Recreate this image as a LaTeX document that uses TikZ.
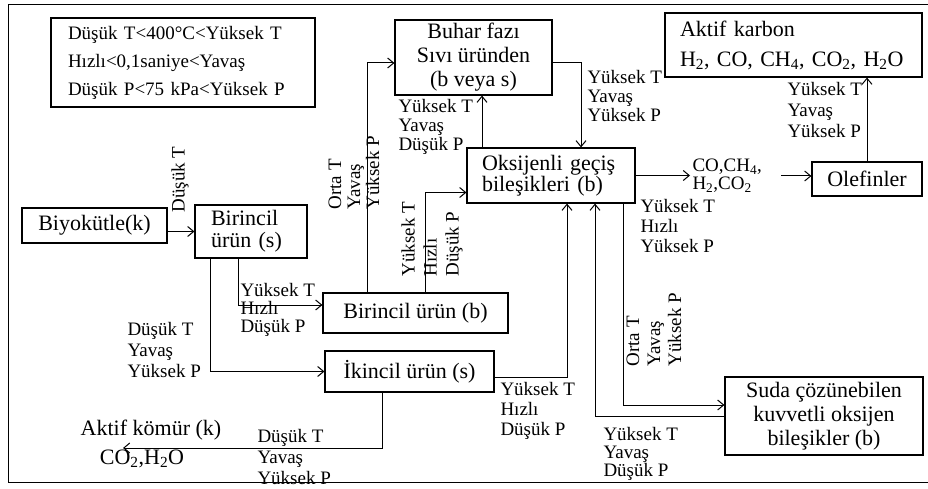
\documentclass[tikz,border=0pt]{standalone}
\usepackage{fontspec}
\setmainfont{Liberation Serif}
\usepackage{tikz}
\usetikzlibrary{arrows.meta,positioning,calc}
\newcommand{\yazi}[1]{\fontsize{19pt}{#1pt}\selectfont}
\newcommand{\kyazi}[1]{\fontsize{22pt}{#1pt}\selectfont}
\tikzset{
  kutu/.style={draw,line width=1.2pt,inner sep=2pt,align=center,font=\kyazi{24}},
  etiket/.style={inner sep=0pt,align=left,anchor=north west},
  dikey/.style={etiket,rotate=90},
}

\begin{document}
\begin{tikzpicture}[x=1pt,y=-1pt,>={Straight Barb[length=6pt,width=10pt]},line width=1pt,font=\yazi{20}]
\useasboundingbox (0,0) rectangle (928,489);
% cerceve
\draw (928,5) -- (8,5) -- (8,482) -- (928,482);

% kutular
\node[kutu,align=left,text width=230pt,inner xsep=17pt,minimum height=89pt,font=\yazi{28}] (lejant) at (183,62.5)
  {Düşük T<400°C<Yüksek T\\Hızlı<0,1saniye<Yavaş\\Düşük P<75 kPa<Yüksek P};
\node[kutu,minimum width=157pt,minimum height=75pt,font=\kyazi{24}] (buhar) at (473.5,57.5)
  {Buhar fazı\\Sıvı üründen\\(b veya s)};
\node[kutu,align=left,text width=227pt,inner xsep=15pt,minimum height=64pt,font=\kyazi{30}] (aktif) at (793.5,45)
  {Aktif karbon\\H\textsubscript{2}, CO, CH\textsubscript{4}, CO\textsubscript{2}, H\textsubscript{2}O};
\node[kutu,align=left,text width=138pt,inner xsep=15pt,minimum height=55pt,font=\kyazi{18}] (oksi) at (551,175.5)
  {Oksijenli geçiş\\bileşikleri (b)};
\node[kutu,minimum width=110pt,minimum height=34pt] (olefin) at (867,179) {Olefinler};
\node[kutu,minimum width=145pt,minimum height=35pt] (biyo) at (94.5,225.5) {Biyokütle(k)};
\node[kutu,align=left,text width=80pt,inner xsep=16pt,minimum height=53pt,font=\kyazi{22}] (birs) at (251,231.5)
  {Birincil\\ürün (s)};
\node[kutu,minimum width=185pt,minimum height=40pt] (birb) at (415.5,313) {Birincil ürün (b)};
\node[kutu,minimum width=169pt,minimum height=41pt] (ikincil) at (409.5,371.5) {İkincil ürün (s)};
\node[kutu,minimum width=198pt,minimum height=78pt,font=\kyazi{24}] (suda) at (824,416)
  {Suda çözünebilen\\kuvvetli oksijen\\bileşikler (b)};

% serbest metinler
\node[inner sep=0pt,anchor=west,align=left,font=\yazi{18}] (gaz) at (692,176)
  {CO,CH\textsubscript{4},\\H\textsubscript{2},CO\textsubscript{2}};
\node[inner sep=0pt,font=\kyazi{24}] (komur) at (151,430) {Aktif kömür (k)};
\node[inner sep=0pt,font=\kyazi{24}] (co2) at (142,459) {CO\textsubscript{2},H\textsubscript{2}O};
\coordinate (komuruc) at (123,448);

% baglantilar
\draw[->] (biyo.east |- birs.west) -- (birs.west);
\draw[->] ([xshift=-13pt]birs.south) |- ([yshift=8pt]birb.west);
\draw[->] ([xshift=-41pt]birs.south) |- (ikincil.west);
\draw[->] ([xshift=-27.5pt]ikincil.south) |- (komuruc);
\draw[->] ([yshift=-5.5pt]ikincil.east) -| ([xshift=16pt]oksi.south);
\draw[->] ([xshift=-48.5pt]birb.north) |- ([yshift=-5.5pt]buhar.west);
\draw[->] ([xshift=9.5pt]birb.north) |- ([yshift=-17pt]oksi.west);
\draw[->] ([xshift=-69pt]oksi.north) -- ([xshift=-69pt]oksi.north |- buhar.south);
\draw[->] ([yshift=-5.5pt]buhar.east) -| ([xshift=30pt]oksi.north);
\draw[->,shorten >=2pt] (oksi.east) -- (oksi.east -| gaz.west);
\draw[->,shorten <=19pt] (gaz.east) -- (gaz.east -| olefin.west);
\draw[->] (olefin.north) -- (olefin.north |- aktif.south);
\draw[->] (suda.west) -| ([xshift=44pt]oksi.south);
\draw[->] ([xshift=72pt]oksi.south) |- ([yshift=11pt]suda.west);

% kosul etiketleri
\node[dikey] (e1) at (171,213) {Düşük T};
\node[etiket,font=\yazi{18}] (e2) at (240,283) {Yüksek T\\Hızlı\\Düşük P};
\node[etiket,font=\yazi{21}] (e3) at (127,322) {Düşük T\\Yavaş\\Yüksek P};
\node[etiket,font=\yazi{21}] (e4) at (257,429) {Düşük T\\Yavaş\\Yüksek P};
\node[etiket] (e5) at (500,382) {Yüksek T\\Hızlı\\Düşük P};
\node[etiket,font=\yazi{18}] (e6) at (603,427) {Yüksek T\\Yavaş\\Düşük P};
\node[etiket] (e7) at (640,199) {Yüksek T\\Hızlı\\Yüksek P};
\node[etiket,font=\yazi{19}] (e8) at (587,70) {Yüksek T\\Yavaş\\Yüksek P};
\node[etiket,font=\yazi{19}] (e9) at (398,99) {Yüksek T\\Yavaş\\Düşük P};
\node[etiket,font=\yazi{21}] (e10) at (787,82) {Yüksek T\\Yavaş\\Yüksek P};
\node[dikey,font=\yazi{19}] (e11) at (328,210) {Orta T\\Yavaş\\Yüksek P};
\node[dikey,font=\yazi{22}] (e12) at (401,277) {Yüksek T\\Hızlı\\Düşük P};
\node[dikey,font=\yazi{21}] (e13) at (626,367) {Orta T\\Yavaş\\Yüksek P};
\end{tikzpicture}
\end{document}
